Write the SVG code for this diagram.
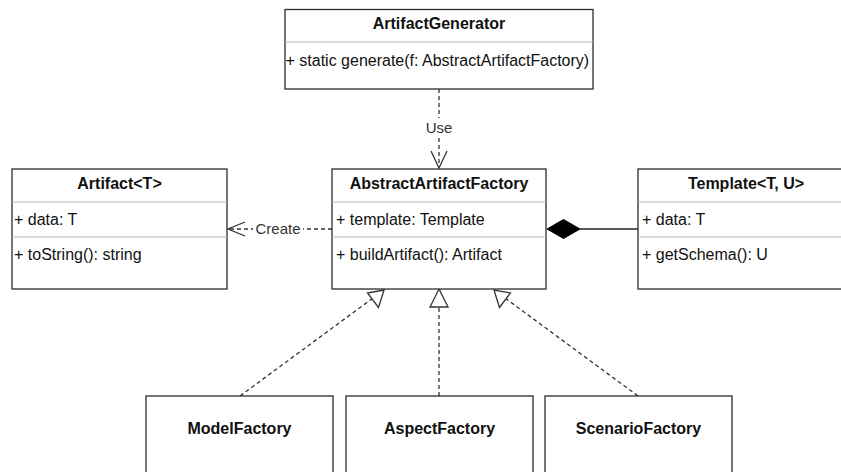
<svg xmlns="http://www.w3.org/2000/svg" width="841" height="472" viewBox="0 0 841 472">
  <style>
    .box { fill: #ffffff; stroke: #2b2b2b; stroke-width: 1.3; }
    .div { stroke: #b8b8b8; stroke-width: 1.2; }
    .title { font-family: "Liberation Sans", Arial, Helvetica, sans-serif; font-size: 16px; font-weight: bold; fill: #111; text-anchor: middle; }
    .member { font-family: "Liberation Sans", Arial, Helvetica, sans-serif; font-size: 16px; fill: #111; }
    .label { font-family: "Liberation Sans", Arial, Helvetica, sans-serif; font-size: 15px; fill: #333; text-anchor: middle; }
    .dash { fill: none; stroke: #333333; stroke-width: 1.3; stroke-dasharray: 4 3; }
    .solid { fill: none; stroke: #222222; stroke-width: 1.3; }
    .openhead { fill: none; stroke: #333333; stroke-width: 1.3; }
    .tri { fill: #ffffff; stroke: #333333; stroke-width: 1.3; stroke-linejoin: miter; }
  </style>

  <!-- connectors -->
  <g id="connectors">
    <!-- ArtifactGenerator uses AbstractArtifactFactory -->
    <line class="dash" x1="439" y1="89" x2="439" y2="167"/>
    <rect x="424" y="118" width="30" height="17" fill="#ffffff"/>
    <text class="label" x="439" y="133">Use</text>
    <polyline class="openhead" points="431,151 439,168 447,151"/>

    <!-- AbstractArtifactFactory creates Artifact -->
    <line class="dash" x1="332" y1="229" x2="228" y2="229"/>
    <rect x="253" y="221" width="50" height="16" fill="#ffffff"/>
    <text class="label" x="278" y="234">Create</text>
    <polyline class="openhead" points="245,222 228,229 245,236"/>

    <!-- composition: AbstractArtifactFactory holds Template -->
    <line class="solid" x1="580" y1="229" x2="638" y2="229"/>
    <polygon points="547,229 563.5,219.5 580,229 563.5,238.5" fill="#000000" stroke="#000000"/>

    <!-- realizations -->
    <line class="dash" x1="240" y1="396" x2="373" y2="298"/>
    <polygon class="tri" points="384,290 367.5,293 378.5,307.5"/>
    <line class="dash" x1="439" y1="396" x2="439" y2="307"/>
    <polygon class="tri" points="439,289 430,307 448,307"/>
    <line class="dash" x1="638" y1="396" x2="505" y2="298"/>
    <polygon class="tri" points="494,290 499.5,307.5 510.5,293"/>
  </g>

  <g id="ArtifactGenerator">
    <rect class="box" x="285" y="9.5" width="308" height="79.5"/>
    <line class="div" x1="285" y1="42" x2="593" y2="42"/>
    <text class="title" x="439" y="29">ArtifactGenerator</text>
    <text class="member" x="285.5" y="66">+ static generate(f: AbstractArtifactFactory)</text>
  </g>

  <g id="Artifact">
    <rect class="box" x="12" y="169" width="215" height="120"/>
    <line class="div" x1="12" y1="202" x2="227" y2="202"/>
    <line class="div" x1="12" y1="237" x2="227" y2="237"/>
    <text class="title" x="119.5" y="189">Artifact&lt;T&gt;</text>
    <text class="member" x="14" y="225">+ data: T</text>
    <text class="member" x="14" y="260">+ toString(): string</text>
  </g>

  <g id="AbstractArtifactFactory">
    <rect class="box" x="332" y="169" width="214" height="120"/>
    <line class="div" x1="332" y1="202" x2="546" y2="202"/>
    <line class="div" x1="332" y1="237" x2="546" y2="237"/>
    <text class="title" x="439" y="189">AbstractArtifactFactory</text>
    <text class="member" x="336" y="225">+ template: Template</text>
    <text class="member" x="336" y="260">+ buildArtifact(): Artifact</text>
  </g>

  <g id="Template">
    <rect class="box" x="638" y="169" width="216" height="120"/>
    <line class="div" x1="638" y1="202" x2="854" y2="202"/>
    <line class="div" x1="638" y1="237" x2="854" y2="237"/>
    <text class="title" x="746" y="189">Template&lt;T, U&gt;</text>
    <text class="member" x="642" y="225">+ data: T</text>
    <text class="member" x="642" y="260">+ getSchema(): U</text>
  </g>

  <g id="ModelFactory">
    <rect class="box" x="146" y="396" width="187" height="84"/>
    <text class="title" x="239.5" y="434">ModelFactory</text>
  </g>

  <g id="AspectFactory">
    <rect class="box" x="346" y="396" width="187" height="84"/>
    <text class="title" x="439.5" y="434">AspectFactory</text>
  </g>

  <g id="ScenarioFactory">
    <rect class="box" x="545" y="396" width="187" height="84"/>
    <text class="title" x="638.5" y="434">ScenarioFactory</text>
  </g>
</svg>
